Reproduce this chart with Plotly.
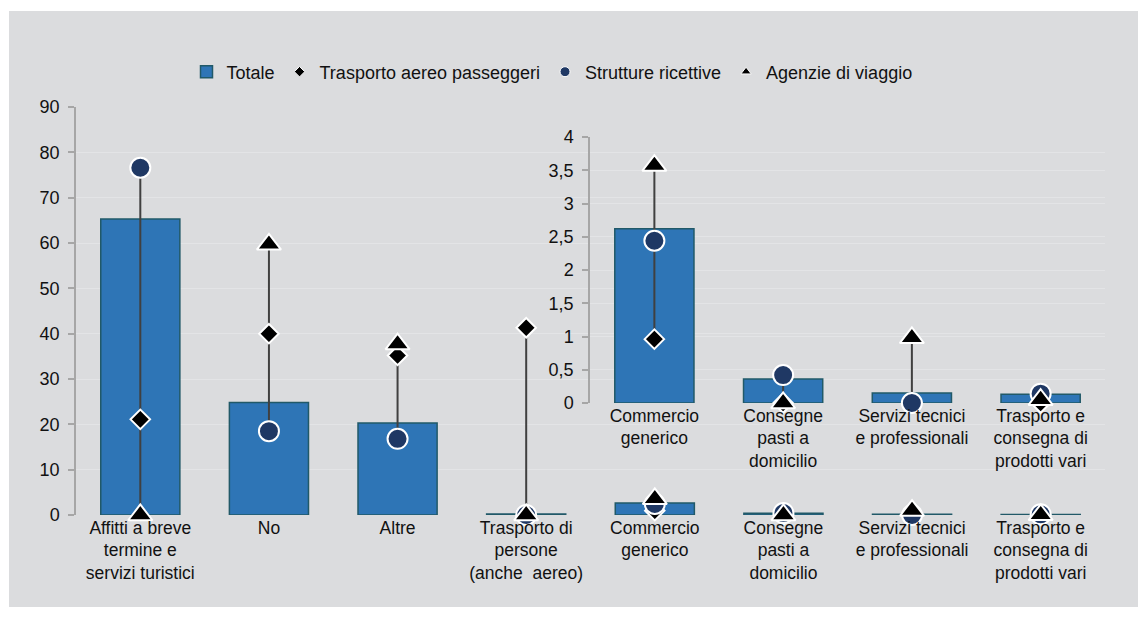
import plotly.graph_objects as go

# ---- data ----
categories = [
    "Affitti a breve<br>termine e<br>servizi turistici",
    "No",
    "Altre",
    "Trasporto di<br>persone<br>(anche\u00a0 aereo)",
    "Commercio<br>generico",
    "Consegne<br>pasti a<br>domicilio",
    "Servizi tecnici<br>e professionali",
    "Trasporto e<br>consegna di<br>prodotti vari",
]
totale = [65.3, 24.8, 20.3, 0.2, 2.62, 0.36, 0.15, 0.13]
trasporto_aereo = [21.1, 40.0, 35.2, 41.3, 0.96, 0.0, 0.0, 0.0]
strutture = [76.6, 18.5, 16.8, 0.0, 2.44, 0.42, 0.0, 0.14]
agenzie = [0.0, 59.7, 37.7, 0.0, 3.57, 0.0, 0.98, 0.05]

main_ticks = [0, 10, 20, 30, 40, 50, 60, 70, 80, 90]
inset_ticks = [0, 0.5, 1, 1.5, 2, 2.5, 3, 3.5, 4]
inset_start = 4  # inset shows the last four categories

# ---- styles ----
FONT = "Liberation Sans, Arial, sans-serif"
TXT = "#111111"
BAR_FILL = "#2E75B6"
BAR_LINE = "#215968"
NAVY = "#1F3864"
BG = "#DBDCDE"
GRID = "#E3E4E6"
AXIS = "#A6A6A6"

fig = go.Figure()


def add_set(cats, tot, aer, strt, agn, xa, ya, legend):
    fig.add_trace(go.Bar(
        x=cats, y=tot, name="Totale", xaxis=xa, yaxis=ya,
        marker=dict(color=BAR_FILL, line=dict(color=BAR_LINE, width=1.5)),
        width=0.615, showlegend=legend, cliponaxis=False, hoverinfo="skip"))
    lx, ly = [], []
    for c, a, s, g in zip(cats, aer, strt, agn):
        lx += [c, c, None]
        ly += [min(a, s, g), max(a, s, g), None]
    fig.add_trace(go.Scatter(
        x=lx, y=ly, mode="lines", xaxis=xa, yaxis=ya,
        line=dict(color="#404040", width=2), showlegend=False,
        cliponaxis=False, hoverinfo="skip"))
    fig.add_trace(go.Scatter(
        x=cats, y=aer, mode="markers", xaxis=xa, yaxis=ya,
        name="Trasporto aereo passeggeri", showlegend=False, cliponaxis=False,
        marker=dict(symbol="diamond", size=15, color="black",
                    line=dict(color="white", width=2))))
    fig.add_trace(go.Scatter(
        x=cats, y=strt, mode="markers", xaxis=xa, yaxis=ya,
        name="Strutture ricettive", showlegend=False, cliponaxis=False,
        marker=dict(symbol="circle", size=20, color=NAVY,
                    line=dict(color="white", width=2))))
    fig.add_trace(go.Scatter(
        x=cats, y=agn, mode="markers", xaxis=xa, yaxis=ya,
        name="Agenzie di viaggio", showlegend=False, cliponaxis=False,
        marker=dict(symbol="triangle-up", size=21, color="black",
                    line=dict(color="white", width=2))))


add_set(categories, totale, trasporto_aereo, strutture, agenzie, "x", "y", True)
add_set(categories[inset_start:], totale[inset_start:],
        trasporto_aereo[inset_start:], strutture[inset_start:],
        agenzie[inset_start:], "x2", "y2", False)

# legend-only entries (small symbols like the original legend)
for nm, sym, col, sz in [("Trasporto aereo passeggeri", "diamond", "black", 8),
                         ("Strutture ricettive", "circle", NAVY, 10),
                         ("Agenzie di viaggio", "triangle-up", "black", 9)]:
    fig.add_trace(go.Scatter(x=[None], y=[None], mode="markers", name=nm,
                             marker=dict(symbol=sym, size=sz, color=col,
                                         line=dict(color="white", width=1))))

# page body has an 8px margin: positions below are reference pixels shifted by it
OFF = 8
W, H = 1146, 625
L = 76 - OFF
T = 107 - OFF
R = W - (1105 - OFF)
B = H - (515 - OFF)
pw, ph = W - L - R, H - T - B


def px_x(px):
    return (px - OFF - L) / pw


def px_y(py):
    return (H - B - (py - OFF)) / ph


axis_common = dict(showline=True, linecolor=AXIS, linewidth=1.5, ticks="outside",
                   ticklen=6, tickwidth=1.5, tickcolor=AXIS, showgrid=True,
                   gridcolor=GRID, gridwidth=1, zeroline=False,
                   tickfont=dict(family=FONT, size=18, color=TXT),
                   ticklabelstandoff=5)
cat_font = dict(family=FONT, size=17.5, color=TXT)

fig.update_layout(
    width=W, height=H,
    margin=dict(l=L, r=R, t=T, b=B, pad=0),
    paper_bgcolor="white",
    plot_bgcolor="rgba(0,0,0,0)",
    separators=",.",
    font=dict(family=FONT, size=18, color=TXT),
    bargap=0.385,
    showlegend=True,
    legend=dict(orientation="h", x=px_x(552), xanchor="center",
                y=px_y(72), yanchor="middle", bgcolor="rgba(0,0,0,0)",
                font=dict(family=FONT, size=18, color=TXT),
                itemclick=False, tracegroupgap=0),
    xaxis=dict(domain=[0, 1], type="category", range=[-0.5, 7.5],
               showline=False, ticks="", showgrid=False,
               tickfont=cat_font, anchor="y"),
    yaxis=dict(domain=[0, 1], range=[0, 90], tickvals=main_ticks, anchor="x",
               **axis_common),
    xaxis2=dict(domain=[px_x(590), 1], type="category", range=[-0.5, 3.5],
                showline=False, ticks="", showgrid=False,
                tickfont=cat_font, anchor="y2"),
    yaxis2=dict(domain=[px_y(403), px_y(137)], range=[0, 4], tickvals=inset_ticks,
                anchor="x2", **axis_common),
    shapes=[dict(type="rect", xref="paper", yref="paper",
                 x0=px_x(9), x1=px_x(1141), y0=px_y(607), y1=px_y(11),
                 fillcolor=BG, line=dict(width=0), layer="below")],
)

fig.write_html("out.html")
